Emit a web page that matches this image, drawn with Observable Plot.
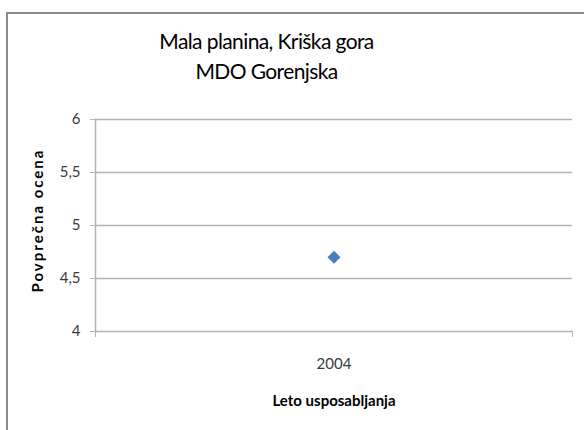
<!DOCTYPE html>
<html>
<head>
<meta charset="utf-8">
<script src="https://cdn.jsdelivr.net/npm/d3@7"></script>
<script src="https://cdn.jsdelivr.net/npm/@observablehq/plot@0.6"></script>
<style>
  html, body { margin: 0; padding: 0; background: #fff; }
  #wrap { position: relative; width: 584px; height: 430px; overflow: hidden; }
  #border { position: absolute; left: 6px; top: 12px; width: 590px; height: 430px;
            border-top: 2px solid #8c8c8c; border-left: 2px solid #8c8c8c; box-sizing: border-box; }
  #chart { position: absolute; left: 0; top: 0; }
</style>
</head>
<body>
<div id="wrap"><div id="border"></div><div id="chart"></div></div>
<script>
const titleLines = ["Mala planina, Kriška gora", "MDO Gorenjska"];
const years = [2004];
const scores = [4.7];
const yTicks = [4, 4.5, 5, 5.5, 6];
const xLabel = "Leto usposabljanja";
const yLabel = "Povprečna ocena";

const data = years.map((y, i) => ({year: y, score: scores[i]}));
const comma = d => String(d).replace(".", ",");
const font = "Lato, 'Open Sans', sans-serif";

const chart = Plot.plot({
  width: 584,
  height: 430,
  marginTop: 119,
  marginBottom: 99,
  marginLeft: 95,
  marginRight: 12,
  style: {fontFamily: font, background: "transparent", color: "#333"},
  x: {domain: [years[0] - 0.5, years[years.length - 1] + 0.5]},
  y: {domain: [4, 6]},
  marks: [
    Plot.gridY(yTicks, {stroke: "#b3b3b3", strokeOpacity: 1, strokeWidth: 1.5}),
    Plot.frame({anchor: "left", stroke: "#b3b3b3", strokeWidth: 1.5}),
    Plot.axisY({ticks: yTicks, tickFormat: comma, tickSize: 5, tickPadding: 10, stroke: "#b3b3b3",
                fontSize: 15, fill: "#3a3a3a", label: null}),
    Plot.axisX({ticks: [years[0] - 0.5, years[years.length - 1] + 0.5], tickFormat: () => "",
                tickSize: 6, stroke: "#b3b3b3", label: null}),
    Plot.axisX({ticks: years, tickFormat: d => String(d), tickSize: 0, tickPadding: 27,
                fontSize: 15, fill: "#3a3a3a", label: null}),
    Plot.dot(data, {x: "year", y: "score", symbol: "diamond2", r: 5.9, fill: "#4a7ebb", stroke: "none"}),
    Plot.text([titleLines[0]], {frameAnchor: "top", lineAnchor: "middle", dy: -77.5, dx: -67.5, fontSize: 21, fill: "#000", text: d => d}),
    Plot.text([titleLines[1]], {frameAnchor: "top", lineAnchor: "middle", dy: -47, dx: -67.5, fontSize: 21, fill: "#000", text: d => d}),
    Plot.text([xLabel], {frameAnchor: "bottom", lineAnchor: "middle", dy: 70, fontSize: 15, fontWeight: "bold", fill: "#000", text: d => d}),
    Plot.text([yLabel], {frameAnchor: "left", textAnchor: "middle", lineAnchor: "middle", dx: -57, dy: -5, rotate: -90, fontSize: 15, fontWeight: "bold", fill: "#000", text: d => d})
  ]
});
d3.select(chart).selectAll("text").filter(function() { return this.textContent === yLabel; })
  .style("letter-spacing", "2px");
d3.select(chart).selectAll("text").filter(function() { return titleLines.includes(this.textContent); })
  .style("letter-spacing", "-0.6px");
document.getElementById("chart").append(chart);
</script>
</body>
</html>
